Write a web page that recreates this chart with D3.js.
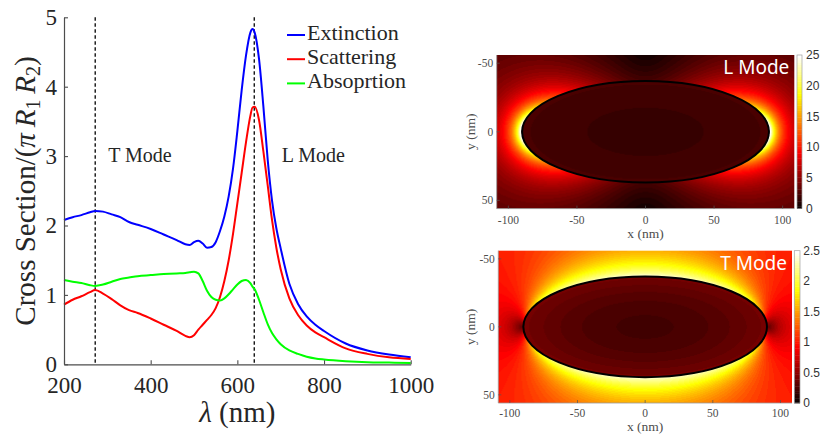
<!DOCTYPE html>
<html>
<head>
<meta charset="utf-8">
<script src="https://cdn.jsdelivr.net/npm/d3@7"></script>
<style>
  html, body { margin: 0; padding: 0; background: #ffffff; }
  svg { display: block; }
</style>
</head>
<body>
<svg id="fig" width="827" height="434"></svg>
<script>
// ---------------- spectra (normalised cross sections) ----------------
const wavelength = [200, 220, 240, 260, 272, 290, 310, 330, 350, 370, 400, 430, 460, 480, 490,
  500, 510, 520, 530, 540, 550, 560, 570, 580, 590, 600, 610, 620, 630, 635, 640, 650, 660,
  670, 680, 690, 700, 720, 740, 760, 780, 800, 850, 900, 950, 1000];
const extinction = [2.08, 2.12, 2.15, 2.19, 2.21, 2.20, 2.16, 2.12, 2.05, 2.01, 1.95, 1.87, 1.79, 1.73, 1.72,
  1.76, 1.78, 1.74, 1.68, 1.69, 1.76, 1.92, 2.13, 2.42, 2.82, 3.36, 3.95, 4.45, 4.78, 4.83, 4.78, 4.40, 3.72,
  2.95, 2.36, 1.96, 1.67, 1.16, 0.87, 0.69, 0.57, 0.48, 0.30, 0.20, 0.14, 0.10];
const scattering = [0.86, 0.93, 0.98, 1.04, 1.07, 1.02, 0.94, 0.85, 0.78, 0.74, 0.66, 0.57, 0.48, 0.41, 0.39,
  0.42, 0.50, 0.57, 0.64, 0.71, 0.81, 0.97, 1.20, 1.50, 1.88, 2.32, 2.76, 3.20, 3.58, 3.70, 3.71, 3.52, 3.07,
  2.58, 2.08, 1.68, 1.37, 0.95, 0.71, 0.56, 0.46, 0.39, 0.23, 0.15, 0.10, 0.075];
const absorption = [1.215, 1.19, 1.17, 1.14, 1.13, 1.15, 1.19, 1.23, 1.25, 1.27, 1.285, 1.30, 1.31, 1.315, 1.325,
  1.335, 1.31, 1.20, 1.06, 0.97, 0.93, 0.92, 0.95, 1.01, 1.08, 1.15, 1.20, 1.215, 1.17, 1.12, 1.08, 0.93, 0.75,
  0.58, 0.45, 0.36, 0.29, 0.20, 0.15, 0.11, 0.085, 0.07, 0.045, 0.03, 0.025, 0.02];
const seriesNames = ["Extinction", "Scattering", "Absoprtion"];
const seriesColors = ["#0000ff", "#ff0000", "#00ff00"];
const modeWavelength = [272, 639];
const modeNames = ["T Mode", "L Mode"];
const xTicks = [200, 400, 600, 800, 1000];
const yTicks = [0, 1, 2, 3, 4, 5];

// ---------------- near-field maps ----------------
const mapTitles = ["L Mode", "T Mode"];
const mapPolarization = ["x", "y"];
const permittivityRe = [-12.0, -1.4];
const permittivityIm = [1.0, 5.7];
const fieldGain = [2.0, 1.0];
const coreDip = [0.25, 0.45];
const colorMax = [25, 2.5];
const colorTicks = [[0, 5, 10, 15, 20, 25], [0, 0.5, 1, 1.5, 2, 2.5]];
const semiAxes = [90, 37];            // spheroid half-lengths (nm)
const mapXTicks = [-100, -50, 0, 50, 100];
const mapYTicks = [-50, 0, 50];

const serif = "'Liberation Serif', 'Times New Roman', serif";
const sans = "'Liberation Sans', Arial, sans-serif";
const ink = "#262626";

const svg = d3.select("#fig");

// ===================== spectra panel =====================
const x = d3.scaleLinear().domain([200, 1000]).range([64, 410.7]);
const y = d3.scaleLinear().domain([0, 5]).range([364.3, 17.3]);

const spectra = [extinction, scattering, absorption];
const line = d3.line()
  .x((d, i) => x(wavelength[i]))
  .y(d => y(d))
  .curve(d3.curveMonotoneX);

// mode markers
svg.append("g").selectAll("line").data(modeWavelength).join("line")
  .attr("x1", d => x(d)).attr("x2", d => x(d))
  .attr("y1", y(5)).attr("y2", y(0))
  .attr("stroke", "#000").attr("stroke-width", 1.3)
  .attr("stroke-dasharray", "3.5,2.5");

svg.append("g").selectAll("path").data(spectra).join("path")
  .attr("d", d => line(d))
  .attr("fill", "none")
  .attr("stroke", (d, i) => seriesColors[i])
  .attr("stroke-width", 2);

const axisStyle = g => {
  g.attr("font-family", null).attr("font-size", null);
  g.select(".domain").attr("stroke", "#4d4d4d").attr("stroke-width", 1.2);
  g.selectAll(".tick line").attr("stroke", "#4d4d4d").attr("stroke-width", 1.1);
  g.selectAll(".tick text").attr("fill", ink).style("font-family", serif).style("font-size", "23px");
};

svg.append("g").attr("transform", `translate(0,${y(0)})`)
  .call(d3.axisBottom(x).tickValues(xTicks).tickFormat(d3.format("d"))
    .tickSizeInner(-4).tickSizeOuter(0).tickPadding(13))
  .call(axisStyle)
  .call(g => g.selectAll(".tick text").attr("dy", "0.68em"));

svg.append("g").attr("transform", `translate(${x(200)},0)`)
  .call(d3.axisLeft(y).tickValues(yTicks).tickFormat(d3.format("d"))
    .tickSizeInner(-4).tickSizeOuter(0).tickPadding(7))
  .call(axisStyle)
  .call(g => g.selectAll(".tick text").attr("dy", "0.32em"));

// axis titles
svg.append("text")
  .attr("x", (x(200) + x(1000)) / 2).attr("y", 421.5)
  .attr("text-anchor", "middle").attr("fill", ink)
  .style("font-family", serif).style("font-size", "29px")
  .call(t => {
    t.append("tspan").style("font-style", "italic").text("λ");
    t.append("tspan").text(" (nm)");
  });

const yTitle = svg.append("text")
  .attr("transform", "translate(35,191) rotate(-90)")
  .attr("text-anchor", "middle").attr("fill", ink)
  .style("font-family", serif).style("font-size", "29px");
yTitle.append("tspan").text("Cross Section/(");
yTitle.append("tspan").style("font-style", "italic").text("π\u2009R");
yTitle.append("tspan").attr("dy", 5).style("font-size", "20px").text("1");
yTitle.append("tspan").attr("dy", -5).style("font-style", "italic").text("\u2009R");
yTitle.append("tspan").attr("dy", 5).style("font-size", "20px").text("2");
yTitle.append("tspan").attr("dy", -5).text(")");

// mode annotations
const modeLabelOffset = [13, 27.5];
svg.append("g").selectAll("text").data(modeNames).join("text")
  .attr("x", (d, i) => x(modeWavelength[i]) + modeLabelOffset[i])
  .attr("y", 161.7)
  .attr("fill", ink)
  .style("font-family", serif).style("font-size", "20px")
  .text(d => d);

// legend
const legend = svg.append("g").attr("transform", "translate(287,0)");
const legendRows = legend.selectAll("g").data(seriesNames).join("g")
  .attr("transform", (d, i) => `translate(0,${35 + i * 24.2})`);
legendRows.append("line")
  .attr("x1", 0).attr("x2", 18).attr("y1", 0).attr("y2", 0)
  .attr("stroke", (d, i) => seriesColors[i]).attr("stroke-width", 2);
legendRows.append("text")
  .attr("x", 20).attr("y", 5)
  .attr("fill", ink)
  .style("font-family", serif).style("font-size", "22px")
  .text(d => d);

// ===================== near-field maps =====================
// MATLAB-style 64-entry "hot" colormap
function hot(k) {
  const r = k < 24 ? (k + 1) / 24 : 1;
  const g = k < 24 ? 0 : (k < 48 ? (k - 23) / 24 : 1);
  const b = k < 48 ? 0 : (k - 47) / 16;
  return [Math.round(r * 255), Math.round(g * 255), Math.round(b * 255)];
}
const hotTable = d3.range(64).map(hot);

function cdiv(a, b) {
  const d = b[0] * b[0] + b[1] * b[1];
  return [(a[0] * b[0] + a[1] * b[1]) / d, (a[1] * b[0] - a[0] * b[1]) / d];
}

// quasi-static |E| around a prolate spheroid (major axis along x) in a unit field
function spheroidField(pol, eps, dip) {
  const [a, b] = semiAxes;
  const c = Math.sqrt(a * a - b * b), xi0 = a / c, e = c / a;
  const Lx = (1 - e * e) / (e * e) * (Math.log((1 + e) / (1 - e)) / (2 * e) - 1);
  const L = pol === "x" ? Lx : (1 - Lx) / 2;
  const Ein = cdiv([1, 0], [1 + (eps[0] - 1) * L, eps[1] * L]);
  const Q1 = s => s / 2 * Math.log((s + 1) / (s - 1)) - 1;
  const Q11 = s => Math.sqrt(s * s - 1) * (0.5 * Math.log((s + 1) / (s - 1)) - s / (s * s - 1));
  const radial = pol === "x" ? Q1 : Q11;
  const norm = pol === "x" ? c * xi0 / Q1(xi0) : c * Math.sqrt(xi0 * xi0 - 1) / Q11(xi0);
  const K = [(1 - Ein[0]) * norm, -Ein[1] * norm];
  const EinAbs = Math.hypot(Ein[0], Ein[1]);

  function phi(px, py) {
    const rho = Math.abs(py);
    const r1 = Math.hypot(px + c, rho), r2 = Math.hypot(px - c, rho);
    const xi = Math.max((r1 + r2) / (2 * c), 1 + 1e-9);
    const eta = Math.max(-1, Math.min(1, (r1 - r2) / (2 * c)));
    const ang = pol === "x" ? eta : Math.sign(py) * Math.sqrt(1 - eta * eta);
    const f = ang * radial(xi);
    const drive = pol === "x" ? px : py;
    return [-drive + K[0] * f, K[1] * f];
  }
  return function (px, py) {
    const r2 = px * px / (a * a) + py * py / (b * b);
    if (r2 < 1) return EinAbs * (1 - dip * (1 - r2));
    const h = 0.01;
    const ax = phi(px + h, py), bx = phi(px - h, py);
    const ay = phi(px, py + h), by = phi(px, py - h);
    const exr = (ax[0] - bx[0]) / (2 * h), exi = (ax[1] - bx[1]) / (2 * h);
    const eyr = (ay[0] - by[0]) / (2 * h), eyi = (ay[1] - by[1]) / (2 * h);
    return Math.sqrt(exr * exr + exi * exi + eyr * eyr + eyi * eyi);
  };
}

const panels = [
  { x: [496.7, 794.3], y: [55, 208.6], cb: [797, 802], lab: 806, xt: 223.5, xl: 237.5, title: 74 },
  { x: [498.3, 792.0], y: [250.7, 403], cb: [794.3, 800], lab: 803.3, xt: 416.5, xl: 430.5, title: 270 }
];

panels.forEach((p, m) => {
  const g = svg.append("g");
  const mx = d3.scaleLinear().domain([-108.5, 108.5]).range(p.x);
  const my = d3.scaleLinear().domain([-56, 56]).range(p.y);
  const field = spheroidField(mapPolarization[m], [permittivityRe[m], permittivityIm[m]], coreDip[m]);

  // raster of |E|
  const w = Math.round(p.x[1] - p.x[0]), h = Math.round(p.y[1] - p.y[0]);
  const canvas = document.createElement("canvas");
  canvas.width = w; canvas.height = h;
  const ctx = canvas.getContext("2d");
  const img = ctx.createImageData(w, h);
  const sx = d3.scaleLinear().domain([0, w]).range(p.x);
  const sy = d3.scaleLinear().domain([0, h]).range(p.y);
  for (let j = 0; j < h; j++) {
    const py = my.invert(sy(j + 0.5));
    for (let i = 0; i < w; i++) {
      const px = mx.invert(sx(i + 0.5));
      const v = field(px, py) * fieldGain[m] / colorMax[m];
      const k = Math.max(0, Math.min(63, Math.floor(v * 64)));
      const col = hotTable[k];
      const o = (j * w + i) * 4;
      img.data[o] = col[0]; img.data[o + 1] = col[1]; img.data[o + 2] = col[2]; img.data[o + 3] = 255;
    }
  }
  ctx.putImageData(img, 0, 0);
  g.append("image")
    .attr("x", p.x[0]).attr("y", p.y[0])
    .attr("width", p.x[1] - p.x[0]).attr("height", p.y[1] - p.y[0])
    .attr("preserveAspectRatio", "none")
    .attr("href", canvas.toDataURL());

  // particle outline
  g.append("ellipse")
    .attr("cx", mx(0)).attr("cy", my(0))
    .attr("rx", mx(semiAxes[0]) - mx(0)).attr("ry", my(semiAxes[1]) - my(0))
    .attr("fill", "none").attr("stroke", "#000").attr("stroke-width", 2);

  // axes
  g.append("line").attr("x1", p.x[0]).attr("x2", p.x[1]).attr("y1", p.y[1]).attr("y2", p.y[1])
    .attr("stroke", "#9a9a9a").attr("stroke-width", 0.8);
  g.append("line").attr("x1", p.x[0]).attr("x2", p.x[0]).attr("y1", p.y[0]).attr("y2", p.y[1])
    .attr("stroke", "#9a9a9a").attr("stroke-width", 0.8);
  g.selectAll(".xt").data(mapXTicks).join("line")
    .attr("x1", d => mx(d)).attr("x2", d => mx(d)).attr("y1", p.y[1]).attr("y2", p.y[1] - 3)
    .attr("stroke", "#555").attr("stroke-width", 0.7);
  g.selectAll(".yt").data(mapYTicks).join("line")
    .attr("y1", d => my(d)).attr("y2", d => my(d)).attr("x1", p.x[0]).attr("x2", p.x[0] + 3)
    .attr("stroke", "#555").attr("stroke-width", 0.7);

  g.selectAll(".xl").data(mapXTicks).join("text")
    .attr("x", d => mx(d)).attr("y", p.xt)
    .attr("text-anchor", "middle").attr("fill", "#4d4d4d")
    .style("font-family", serif).style("font-size", "11.5px")
    .text(d => d);
  g.selectAll(".yl").data(mapYTicks).join("text")
    .attr("x", p.x[0] - 3.5).attr("y", d => my(d)).attr("dy", "0.34em")
    .attr("text-anchor", "end").attr("fill", "#4d4d4d")
    .style("font-family", serif).style("font-size", "11.5px")
    .text(d => d);
  g.append("text")
    .attr("x", mx(0)).attr("y", p.xl)
    .attr("text-anchor", "middle").attr("fill", "#4d4d4d")
    .style("font-family", serif).style("font-size", "13.5px")
    .text("x (nm)");
  g.append("text")
    .attr("transform", `translate(475,${my(0)}) rotate(-90)`)
    .attr("text-anchor", "middle").attr("fill", "#4d4d4d")
    .style("font-family", serif).style("font-size", "13.5px")
    .text("y (nm)");

  g.append("text")
    .attr("x", p.x[1] - 5).attr("y", p.title)
    .attr("text-anchor", "end").attr("fill", "#ffffff")
    .style("font-family", "'Noto Sans', 'Open Sans', sans-serif").style("font-size", "19px")
    .text(mapTitles[m]);

  // colour bar
  const cy = d3.scaleLinear().domain([0, colorMax[m]]).range([p.y[1], p.y[0]]);
  g.selectAll(".cb").data(hotTable).join("rect")
    .attr("x", p.cb[0]).attr("width", p.cb[1] - p.cb[0])
    .attr("y", (d, k) => cy((k + 1) / 64 * colorMax[m]))
    .attr("height", (d, k) => cy(k / 64 * colorMax[m]) - cy((k + 1) / 64 * colorMax[m]) + 0.4)
    .attr("fill", d => `rgb(${d[0]},${d[1]},${d[2]})`);
  g.append("rect")
    .attr("x", p.cb[0]).attr("y", p.y[0]).attr("width", p.cb[1] - p.cb[0]).attr("height", p.y[1] - p.y[0])
    .attr("fill", "none").attr("stroke", "#a0a0a0").attr("stroke-width", 0.7);
  g.selectAll(".cl").data(colorTicks[m]).join("text")
    .attr("x", p.lab).attr("y", d => cy(d)).attr("dy", "0.36em")
    .attr("fill", "#333").style("font-family", sans).style("font-size", "12px")
    .text(d => d);
});
</script>
</body>
</html>
